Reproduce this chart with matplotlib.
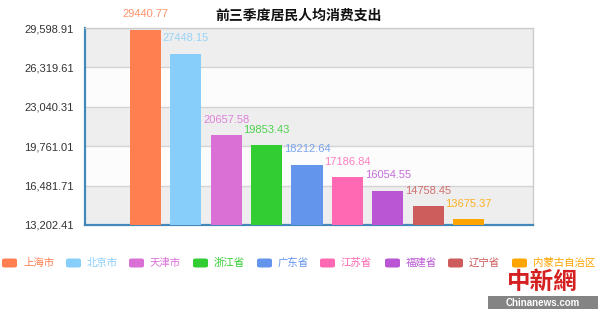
import matplotlib
matplotlib.use("Agg")
import matplotlib.pyplot as plt
from matplotlib.patches import FancyBboxPatch, Rectangle
from matplotlib.ticker import FixedLocator, FuncFormatter

plt.rcParams['font.family'] = ['Liberation Sans', 'Noto Sans CJK SC', 'DejaVu Sans']

title = "前三季度居民人均消费支出"
categories = ["上海市", "北京市", "天津市", "浙江省", "广东省", "江苏省", "福建省", "辽宁省", "内蒙古自治区"]
values = [29440.77, 27448.15, 20657.58, 19853.43, 18212.64, 17186.84, 16054.55, 14758.45, 13675.37]
colors = ["#FF7F50", "#87CEFA", "#DA70D6", "#32CD32", "#6495ED", "#FF69B4", "#BA55D3", "#CD5C5C", "#FFA500"]
yticks = [13202.41, 16481.71, 19761.01, 23040.31, 26319.61, 29598.91]

fig = plt.figure(figsize=(6, 3.12), dpi=100)
ax = fig.add_axes([85/600, 87/312, 448/600, 197/312])

ymin, ymax = yticks[0], yticks[-1]
ax.set_ylim(ymin, ymax)
ax.set_xlim(-1.5, 9.6)

# alternating split areas
for i in range(len(yticks) - 1):
    c = "#eeeeee" if i % 2 == 0 else "#fcfcfc"
    ax.axhspan(yticks[i], yticks[i + 1], color=c, zorder=0, lw=0)
for t in yticks:
    ax.axhline(t, color="#d4d4d4", lw=1, zorder=1)

xs = list(range(len(values)))
heights = [v - ymin for v in values]
ax.bar(xs, heights, bottom=ymin, width=0.77, color=colors, zorder=3)

for x, v, c in zip(xs, values, colors):
    ax.annotate(f"{v:.2f}", (x, v), xytext=(0, 7.5), textcoords="offset points",
                ha="center", va="bottom", fontsize=8, color=c, zorder=4, alpha=0.85,
                annotation_clip=False)

ax.yaxis.set_major_locator(FixedLocator(yticks))
ax.yaxis.set_major_formatter(FuncFormatter(lambda v, p: f"{v:,.2f}"))
ax.tick_params(axis="y", length=0, pad=8, labelsize=8, labelcolor="#333333")
ax.set_xticks([])

for s in ["top", "right"]:
    ax.spines[s].set_color("#cccccc")
    ax.spines[s].set_linewidth(1)
for s in ["left", "bottom"]:
    ax.spines[s].set_color("#4488bb")
    ax.spines[s].set_linewidth(1.6)

fig.text(299/600, 1 - 16/312, title, ha="center", va="center", fontsize=10,
         fontweight="bold", color="#111111", family=["Noto Sans CJK SC", "DejaVu Sans"])

# legend
leg_x = [1, 65, 128, 192, 256, 319, 384, 447, 511]
ly = 263
for x0, cat, c in zip(leg_x, categories, colors):
    p = FancyBboxPatch(((x0 + 1) / 600, (312 - ly - 4.5) / 312), 15 / 600, 9 / 312,
                       boxstyle="round,pad=0,rounding_size=0.005",
                       transform=fig.transFigure, facecolor=c, edgecolor="none")
    fig.patches.append(p)
    fig.text((x0 + 22) / 600, 1 - ly / 312, cat, ha="left", va="center",
             fontsize=7.5, color=c, family=["Noto Sans CJK SC", "DejaVu Sans"])

# watermark
fig.patches.append(Rectangle((488 / 600, (312 - 309) / 312), 110 / 600, 13 / 312,
                             transform=fig.transFigure, facecolor="#666666",
                             edgecolor="none", alpha=0.8))
fig.text(543 / 600, 1 - 302.5 / 312, "Chinanews.com", ha="center", va="center",
         fontsize=7, fontweight="bold", color="white")
fig.text(542 / 600, 1 - 282 / 312, "中新網", ha="center", va="center",
         fontsize=17, fontweight="bold", color="#d42020",
         family=["Noto Sans CJK TC", "DejaVu Sans"])

fig.savefig("out.png", dpi=100)
